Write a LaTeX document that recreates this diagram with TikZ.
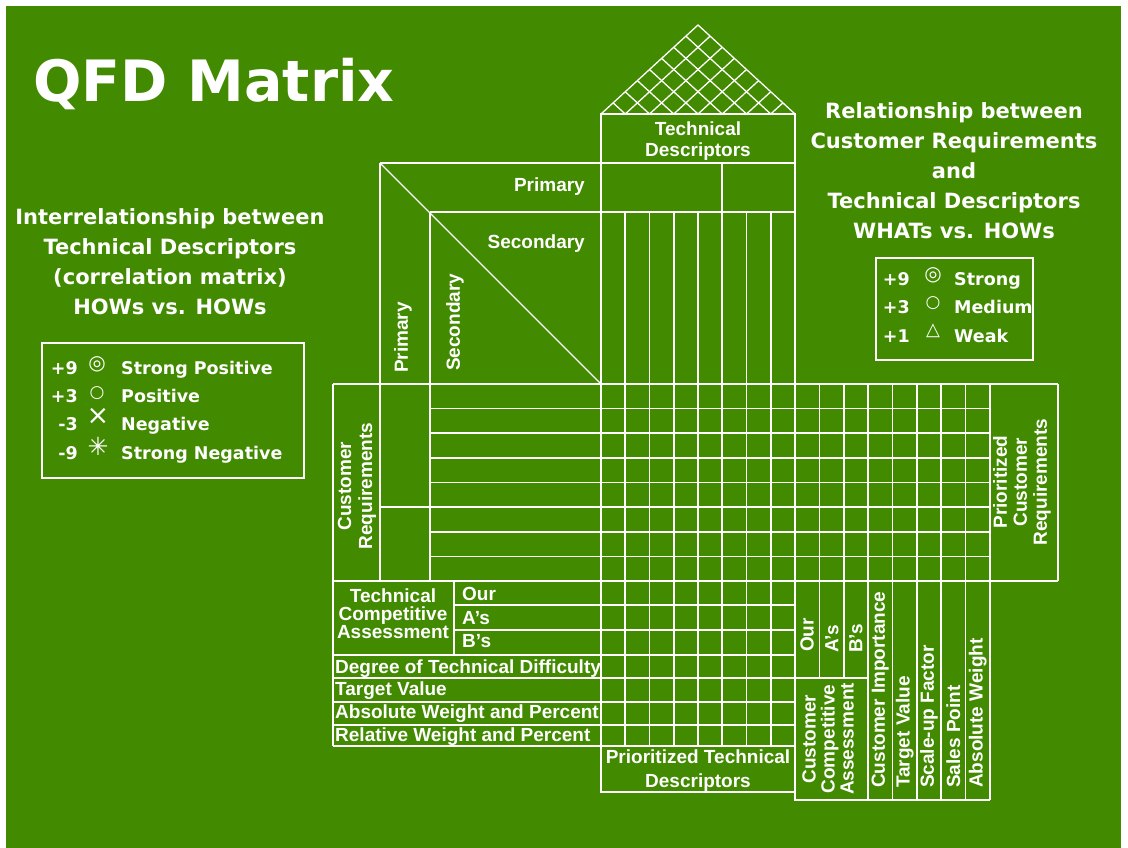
\documentclass[tikz,border=0pt]{standalone}
\usepackage{fontspec}
\setmainfont{Liberation Sans}
\newfontfamily\dvs{DejaVu Sans}
\usetikzlibrary{calc}
\definecolor{qfdgreen}{RGB}{66,138,0}
\begin{document}
\begin{tikzpicture}[x=1pt,y=-1pt,
  gl/.style={white,line width=1.7pt},
  lat/.style={white,line width=1.3pt},
  dt/.style={text=white,font=\fontsize{19}{21}\selectfont\bfseries,inner sep=0pt},
  side/.style={text=white,font=\dvs\fontsize{21}{30}\selectfont\bfseries,align=center,inner sep=0pt},
  leg/.style={text=white,font=\dvs\fontsize{17.5}{20}\selectfont\bfseries,inner sep=0pt},
  sym/.style={text=white,inner sep=0pt}]
\useasboundingbox (0,0) rectangle (1128,848);
\fill[white] (0,0) rectangle (1128,848);
\fill[qfdgreen] (6,6) rectangle (1121,848);

% title and side texts
\node[anchor=base west,text=white,font=\dvs\fontsize{57}{60}\selectfont\bfseries,inner sep=0pt] (title) at (33,102) {QFD Matrix};
\node[side] (howtxt) at (170,262) {Interrelationship between\\Technical Descriptors\\(correlation matrix)\\HOWs vs. HOWs};
\node[side] (whattxt) at (954,171) {Relationship between\\Customer Requirements\\and\\Technical Descriptors\\WHATs vs. HOWs};

% left legend
\draw[gl] (42,343) rectangle (304,478);
\node[leg,anchor=base east] (l1n) at (78,374) {+9};
\node[leg,anchor=base east] (l2n) at (78,402) {+3};
\node[leg,anchor=base east] (l3n) at (78,430) {-3};
\node[leg,anchor=base east] (l4n) at (78,459) {-9};
\node[sym,font=\dvs\fontsize{20}{20}\selectfont] (l1s) at (97,364) {◎};
\node[sym,font=\dvs\fontsize{17}{17}\selectfont] (l2s) at (97,393) {○};
\node[sym,font=\dvs\fontsize{27}{27}\selectfont] (l3s) at (98,416) {×};
\node[sym,font=\dvs\fontsize{25}{25}\selectfont] (l4s) at (98,446) {✳};
\node[leg,anchor=base west] (l1t) at (121,374) {Strong Positive};
\node[leg,anchor=base west] (l2t) at (121,402) {Positive};
\node[leg,anchor=base west] (l3t) at (121,430) {Negative};
\node[leg,anchor=base west] (l4t) at (121,459) {Strong Negative};

% right legend
\draw[gl] (876,258) rectangle (1033,360);
\node[leg,anchor=base east] (r1n) at (910,285) {+9};
\node[leg,anchor=base east] (r2n) at (910,313) {+3};
\node[leg,anchor=base east] (r3n) at (910,342) {+1};
\node[sym,font=\dvs\fontsize{20}{20}\selectfont] (r1s) at (933,275) {◎};
\node[sym,font=\dvs\fontsize{17}{17}\selectfont] (r2s) at (933,303) {○};
\node[sym,font=\dvs\fontsize{18}{18}\selectfont] (r3s) at (933,331) {△};
\node[leg,anchor=base west] (r1t) at (954,285) {Strong};
\node[leg,anchor=base west] (r2t) at (954,313) {Medium};
\node[leg,anchor=base west] (r3t) at (954,342) {Weak};

% roof
\coordinate (B0) at (601,114);
\coordinate (B8) at (795,114);
\coordinate (AP) at (698,25);
\draw[lat] (B0) -- (AP) -- (B8);
\foreach \k in {1,...,7}{
  \draw[lat] ($(B0)!\k/8!(AP)$) -- ($(B0)!\k/8!(B8)$) -- ($(B8)!{(8-\k)/8}!(AP)$);
}

% technical descriptors
\draw[gl] (601,114) rectangle (795,163);
\draw[gl] (380,163) -- (795,163);
\draw[gl] (430,212) -- (795,212);
\foreach \x in {625.25,649.5,673.75,698,746.5,770.75} \draw[gl] (\x,212) -- (\x,746);
\draw[gl] (722.25,163) -- (722.25,746);
\draw[gl] (601,114) -- (601,792) -- (795,792);
\draw[gl] (795,114) -- (795,800) -- (990,800);

% primary / secondary
\draw[gl] (380,163) -- (380,581);
\draw[gl] (430,212) -- (430,581);
\draw[lat] (380,163) -- (601,384);

% relationship rows
\draw[gl] (333,384) -- (1058,384);
\draw[gl] (333,581) -- (1058,581);
\foreach \y in {408.6,433.25,457.9,482.5,531.75,556.4} \draw[gl] (430,\y) -- (990,\y);
\draw[gl] (380,507.1) -- (990,507.1);
\draw[gl] (333,384) -- (333,746);
\foreach \x in {819.4,843.8} \draw[gl] (\x,384) -- (\x,678);
\foreach \x in {868.1,892.5,916.9,941.2,965.6,990} \draw[gl] (\x,384) -- (\x,800);
\draw[gl] (1058,384) -- (1058,581);

% lower rows
\foreach \y in {605,630} \draw[gl] (454,\y) -- (795,\y);
\draw[gl] (454,581) -- (454,655);
\draw[gl] (333,655) -- (795,655);
\draw[gl] (333,678) -- (868.1,678);
\foreach \y in {702,725,746} \draw[gl] (333,\y) -- (795,\y);

% diagram texts
\node[dt,align=center] (td) at (698,141) {Technical\\Descriptors};
\node[dt,anchor=east] (prim) at (585,187) {Primary};
\node[dt,anchor=east] (sec) at (585,244) {Secondary};
\node[dt,rotate=90,anchor=west] (primv) at (403,373) {Primary};
\node[dt,rotate=90,anchor=west] (secv) at (455,371) {Secondary};
\node[dt,rotate=90,align=center] (cr) at (357,486) {Customer\\Requirements};
\node[dt,rotate=90,align=center,font=\fontsize{19}{20}\selectfont\bfseries] (pcr) at (1022,482) {Prioritized\\Customer\\Requirements};
\node[dt,align=center,font=\fontsize{19}{18}\selectfont\bfseries] (tca) at (393,614) {Technical\\Competitive\\Assessment};
\node[dt,anchor=west] (our) at (462,594) {Our};
\node[dt,anchor=west] (as) at (462,618) {A’s};
\node[dt,anchor=west] (bs) at (462,641) {B’s};
\node[dt,anchor=west] (dtd) at (335,669) {Degree of Technical Difficulty};
\node[dt,anchor=west] (tv) at (335,691) {Target Value};
\node[dt,anchor=west] (awp) at (335,714) {Absolute Weight and Percent};
\node[dt,anchor=west] (rwp) at (335,737) {Relative Weight and Percent};
\node[dt,align=center,font=\fontsize{19}{24}\selectfont\bfseries] (ptd) at (698,771) {Prioritized Technical\\Descriptors};
\node[dt,rotate=90,anchor=west] (ourv) at (807,652) {Our};
\node[dt,rotate=90,anchor=west] (asv) at (832,653) {A’s};
\node[dt,rotate=90,anchor=west] (bsv) at (856,653) {B’s};
\node[dt,rotate=90,align=center,font=\fontsize{19}{19}\selectfont\bfseries] (cca) at (828,739) {Customer\\Competitive\\Assessment};
\node[dt,rotate=90,anchor=west] (ci) at (880.3,788) {Customer Importance};
\node[dt,rotate=90,anchor=west] (tvv) at (904.7,788) {Target Value};
\node[dt,rotate=90,anchor=west] (suf) at (929,788) {Scale-up Factor};
\node[dt,rotate=90,anchor=west] (sp) at (953.4,788) {Sales Point};
\node[dt,rotate=90,anchor=west] (aw) at (977.8,788) {Absolute Weight};
\end{tikzpicture}
\end{document}
